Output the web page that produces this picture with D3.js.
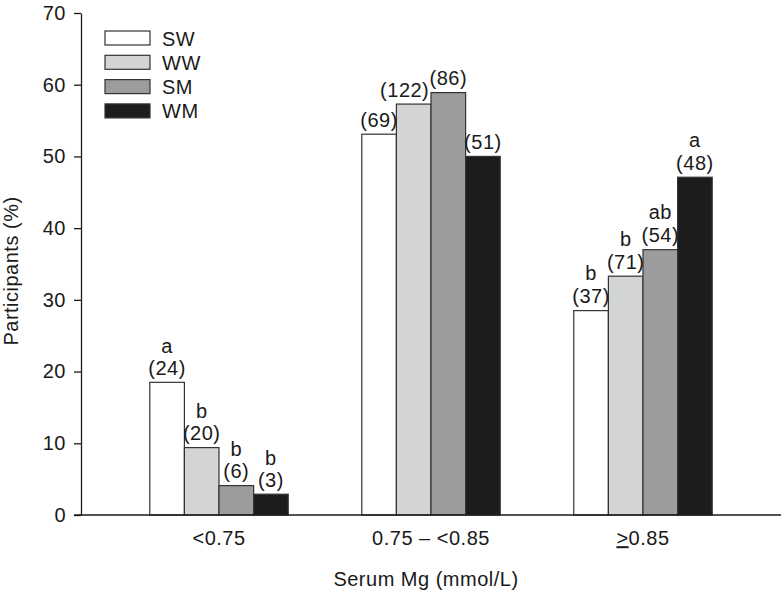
<!DOCTYPE html>
<html>
<head>
<meta charset="utf-8">
<script src="https://cdn.jsdelivr.net/npm/d3@7"></script>
<style>
  html, body { margin: 0; padding: 0; background: #fff; }
  svg { display: block; }
  text { font-family: "Liberation Sans", Arial, Helvetica, sans-serif; fill: #1a1a1a; letter-spacing: 0.5px; }
</style>
</head>
<body>
<svg id="chart" width="782" height="593"></svg>
<script>
// ---- Data ----
const categories = ["<0.75", "0.75 \u2013 <0.85", "\u22650.85"];
const groups = ["SW", "WW", "SM", "WM"];
const valuesSW = [18.5, 53.1, 28.5];
const valuesWW = [9.4, 57.3, 33.3];
const valuesSM = [4.1, 58.9, 37.0];
const valuesWM = [2.9, 50.0, 47.1];
const countsSW = ["(24)", "(69)", "(37)"];
const countsWW = ["(20)", "(122)", "(71)"];
const countsSM = ["(6)", "(86)", "(54)"];
const countsWM = ["(3)", "(51)", "(48)"];
const lettersSW = ["a", "", "b"];
const lettersWW = ["b", "", "b"];
const lettersSM = ["b", "", "ab"];
const lettersWM = ["b", "", "a"];
const yTicks = [0, 10, 20, 30, 40, 50, 60, 70];
const colors = ["#ffffff", "#d3d4d6", "#9c9c9e", "#1d1b1e"];

const seriesValues = [valuesSW, valuesWW, valuesSM, valuesWM];
const seriesCounts = [countsSW, countsWW, countsSM, countsWM];
const seriesLetters = [lettersSW, lettersWW, lettersSM, lettersWM];

(function () {
const svg = d3.select("#chart");
const mLeft = 81, mRight = 781, mTop = 13, mBottom = 515;
const fs = 20;

const y = d3.scaleLinear().domain([0, 70]).range([mBottom, mTop]);
const x0 = d3.scaleBand().domain(categories).range([mLeft, mRight])
  .paddingInner(0.347).paddingOuter(0.3245);
const x1 = d3.scaleBand().domain(groups).range([0, x0.bandwidth()]).padding(0);

const rows = [];
categories.forEach((c, ci) => {
  groups.forEach((g, gi) => {
    rows.push({ cat: c, ci, grp: g, gi, value: seriesValues[gi][ci],
      count: seriesCounts[gi][ci], letter: seriesLetters[gi][ci] });
  });
});

// wide label in the middle group is nudged left, as in the original figure
const labelDx = d => (d.ci === 1 && d.gi === 1) ? -9 : 0;

const barG = svg.append("g");
barG.selectAll("rect").data(rows).enter().append("rect")
  .attr("x", d => x0(d.cat) + x1(d.grp))
  .attr("y", d => y(d.value))
  .attr("width", x1.bandwidth())
  .attr("height", d => y(0) - y(d.value))
  .attr("fill", d => colors[d.gi])
  .attr("stroke", "#333")
  .attr("stroke-width", 1.2);

barG.selectAll("text.count").data(rows).enter().append("text")
  .attr("class", "count")
  .attr("x", d => x0(d.cat) + x1(d.grp) + x1.bandwidth() / 2 + labelDx(d))
  .attr("y", d => y(d.value) - 7.5)
  .attr("text-anchor", "middle")
  .attr("font-size", fs)
  .text(d => d.count);

barG.selectAll("text.letter").data(rows.filter(d => d.letter)).enter().append("text")
  .attr("class", "letter")
  .attr("x", d => x0(d.cat) + x1(d.grp) + x1.bandwidth() / 2)
  .attr("y", d => y(d.value) - 7.5 - (d.ci === 0 ? 22 : 23))
  .attr("text-anchor", "middle")
  .attr("font-size", fs)
  .text(d => d.letter);

const yAxis = d3.axisLeft(y).tickValues(yTicks).tickSize(7).tickPadding(8).tickSizeOuter(0);
const yg = svg.append("g").attr("transform", `translate(${mLeft},0)`).call(yAxis);
yg.select(".domain").attr("stroke", "#1a1a1a").attr("stroke-width", 1.3);
yg.selectAll(".tick line").attr("stroke", "#1a1a1a").attr("stroke-width", 1.3);
yg.selectAll(".tick text").attr("font-size", fs).attr("fill", "#1a1a1a")
  .style("font-family", "Liberation Sans, Arial, sans-serif");

const xAxis = d3.axisBottom(x0).tickSize(0).tickPadding(16).tickSizeOuter(0);
const xg = svg.append("g").attr("transform", `translate(0,${mBottom})`).call(xAxis);
xg.select(".domain").attr("d", `M${mLeft - 7},0H${mRight}`).attr("stroke", "#1a1a1a").attr("stroke-width", 1.3);
xg.selectAll(".tick text").attr("font-size", fs).attr("fill", "#1a1a1a")
  .style("font-family", "Liberation Sans, Arial, sans-serif");
xg.selectAll(".tick text").filter(d => d === categories[2]).text("").each(function () {
  const t = d3.select(this);
  t.append("tspan").attr("text-decoration", "underline").text(">");
  t.append("tspan").text("0.85");
});

svg.append("text")
  .attr("x", 426).attr("y", 586)
  .attr("text-anchor", "middle").attr("font-size", fs)
  .text("Serum Mg (mmol/L)");
svg.append("text")
  .attr("transform", `translate(18,271) rotate(-90)`)
  .attr("text-anchor", "middle").attr("font-size", fs)
  .text("Participants (%)");

const lg = svg.append("g").attr("transform", "translate(105,31)");
groups.forEach((g, i) => {
  const row = lg.append("g").attr("transform", `translate(0,${i * 24.3})`);
  row.append("rect").attr("width", 45).attr("height", 14)
    .attr("fill", colors[i]).attr("stroke", "#333").attr("stroke-width", 1.2);
  row.append("text").attr("x", 57).attr("y", 14.5).attr("font-size", fs).text(g);
});
})();
</script>
</body>
</html>
